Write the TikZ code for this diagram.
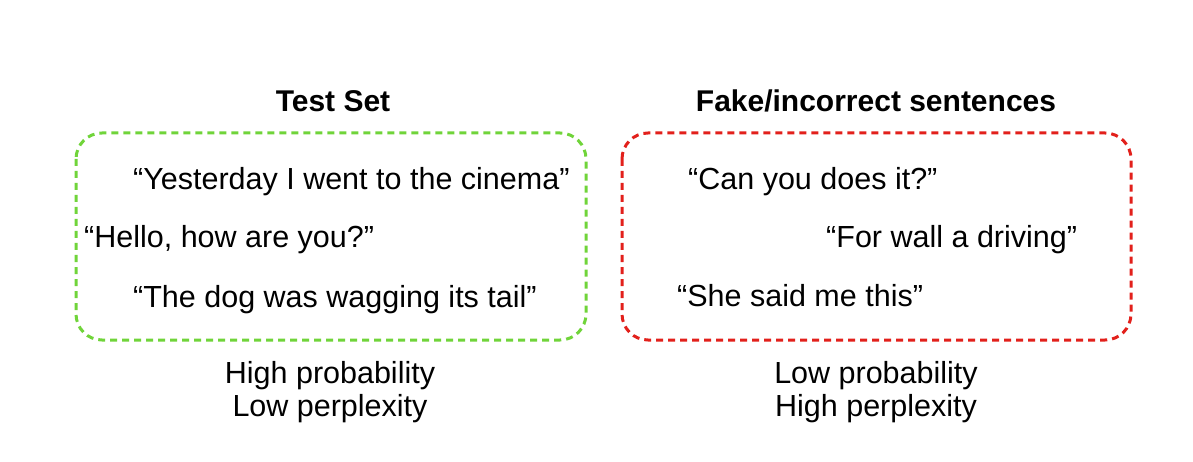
\documentclass[tikz,border=0pt]{standalone}
\usepackage{fontspec}
\setmainfont{Liberation Sans}
\begin{document}
\begin{tikzpicture}[x=1pt,y=-1pt,
  sentence/.style={anchor=west,inner sep=0pt,font=\fontsize{30.5}{33}\selectfont},
  heading/.style={inner sep=0pt,font=\bfseries\fontsize{30}{33}\selectfont},
  caption/.style={inner sep=0pt,align=center,font=\fontsize{30.5}{33}\selectfont},
  setbox/.style={line width=3pt,dash pattern=on 7pt off 5pt,rounded corners=26pt}]
  \definecolor{okgreen}{RGB}{112,212,58}
  \definecolor{badred}{RGB}{226,32,27}
  \useasboundingbox (0,0) rectangle (1193,462);

  % Test set
  \node[heading] (t1) at (333,101) {Test Set};
  \draw[setbox,okgreen] (76,133) rectangle (586,340);
  \node[sentence] (s1) at (133,182) {“Yesterday I went to the cinema”};
  \node[sentence] (s2) at (84,240) {“Hello, how are you?”};
  \node[sentence] (s3) at (133,300) {“The dog was wagging its tail”};
  \node[caption] (c1) at (330,392) {High probability\\Low perplexity};

  % Fake sentences
  \node[heading] (t2) at (876,101) {Fake/incorrect sentences};
  \draw[setbox,badred] (622,133) rectangle (1131,340);
  \node[sentence] (r1) at (688,182) {“Can you does it?”};
  \node[sentence] (r2) at (826,240) {“For wall a driving”};
  \node[sentence] (r3) at (677,296) {“She said me this”};
  \node[caption] (c2) at (876,392) {Low probability\\High perplexity};
\end{tikzpicture}
\end{document}
